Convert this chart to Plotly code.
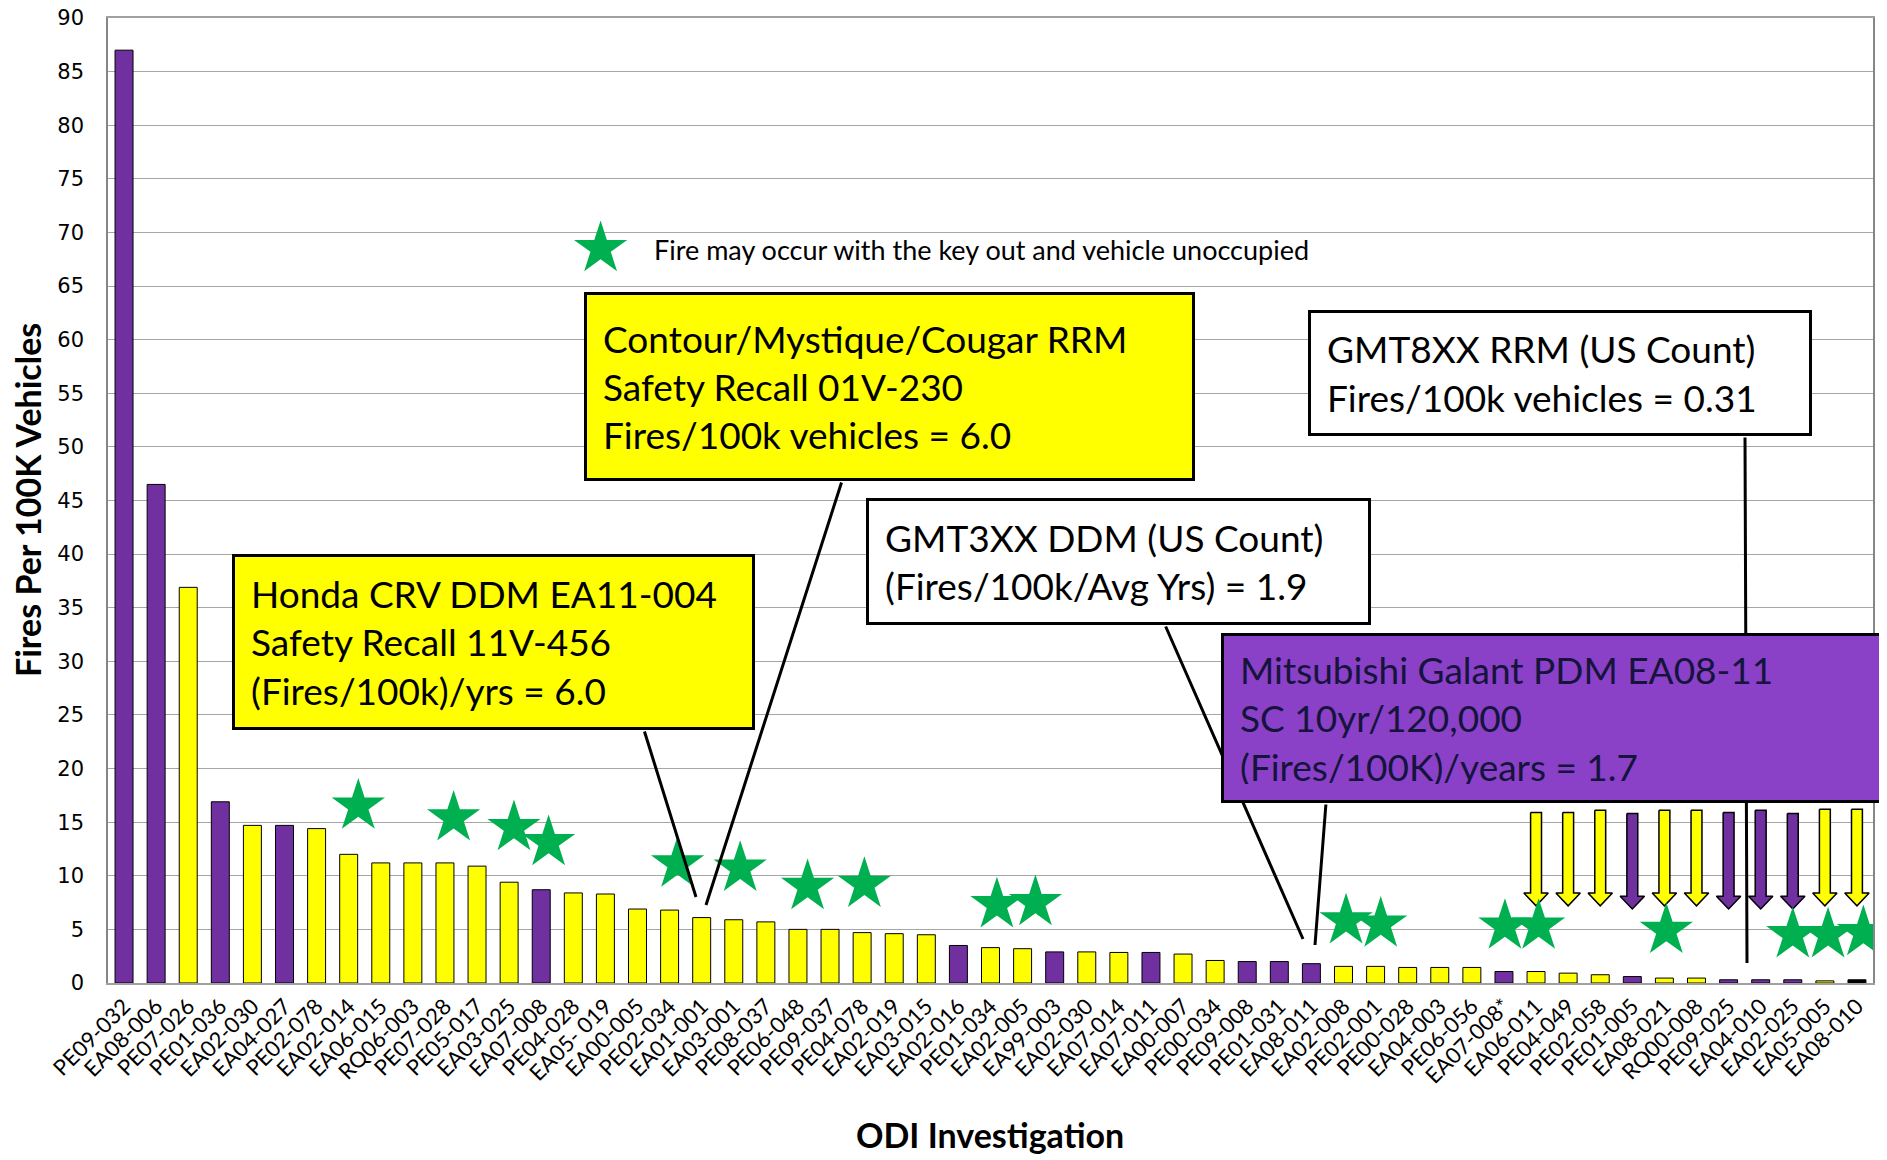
import plotly.graph_objects as go

# ODI investigations, sorted by fire rate
investigations = ["PE09-032", "EA08-006", "PE07-026", "PE01-036", "EA02-030", "EA04-027", "PE02-078",
                  "EA02-014", "EA06-015", "RQ06-003", "PE07-028", "PE05-017", "EA03-025", "EA07-008",
                  "PE04-028", "EA05- 019", "EA00-005", "PE02-034", "EA01-001", "EA03-001", "PE08-037",
                  "PE06-048", "PE09-037", "PE04-078", "EA02-019", "EA03-015", "EA02-016", "PE01-034",
                  "EA02-005", "EA99-003", "EA02-030", "EA07-014", "EA07-011", "EA00-007", "PE00-034",
                  "PE09-008", "PE01-031", "EA08-011", "EA02-008", "PE02-001", "PE00-028", "EA04-003",
                  "PE06-056", "EA07-008*", "EA06-011", "PE04-049", "PE02-058", "PE01-005", "EA08-021",
                  "RQ00-008", "PE09-025", "EA04-010", "EA02-025", "EA05-005", "EA08-010"]
fire_rate = [87.0, 46.5, 36.9, 16.9, 14.7, 14.7, 14.4, 12.0, 11.2, 11.2, 11.2, 10.9, 9.4, 8.7,
             8.4, 8.3, 6.9, 6.8, 6.1, 5.9, 5.7, 5.0, 5.0, 4.7, 4.6, 4.5, 3.5, 3.3,
             3.2, 2.9, 2.9, 2.85, 2.85, 2.7, 2.1, 2.0, 2.0, 1.8, 1.55, 1.55, 1.45, 1.45,
             1.45, 1.07, 1.07, 0.92, 0.77, 0.6, 0.46, 0.46, 0.3, 0.3, 0.3, 0.2, 0.3]
group = ["P", "P", "Y", "P", "Y", "P", "Y", "Y", "Y", "Y", "Y", "Y", "Y", "P",
         "Y", "Y", "Y", "Y", "Y", "Y", "Y", "Y", "Y", "Y", "Y", "Y", "P", "Y",
         "Y", "P", "Y", "Y", "P", "Y", "Y", "P", "P", "P", "Y", "Y", "Y", "Y",
         "Y", "P", "Y", "Y", "Y", "P", "Y", "Y", "P", "P", "P", "Y", "K"]

# green stars: "fire may occur with the key out"
star_x = [7.3, 10.27, 12.15, 13.23, 17.25, 19.2, 21.3, 23.07, 27.2, 28.4,
          38.08, 39.16, 43.03, 44.08, 48.06, 52.0, 53.1, 54.2]
star_y = [16.5, 15.4, 14.5, 13.1, 11.1, 10.7, 9.0, 9.2, 7.3, 7.5,
          5.8, 5.5, 5.3, 5.3, 4.9, 4.5, 4.5, 4.7]

# down arrows over the smallest bars
arrow_x = [44, 45, 46, 47, 48, 49, 50, 51, 52, 53, 54]
arrow_top = [15.9, 15.9, 16.1, 15.8, 16.1, 16.1, 15.9, 16.1, 15.8, 16.2, 16.2]
arrow_tip = [7.2, 7.2, 7.2, 6.9, 7.2, 7.2, 6.9, 6.9, 6.9, 7.2, 7.2]
arrow_group = ["Y", "Y", "Y", "P", "Y", "Y", "P", "P", "P", "Y", "Y"]

colors = {"P": "#7030A0", "Y": "#FFFF00", "K": "#000000"}
# page has an 8px body margin, so the figure is shrunk by that much
PAGE = 8
W, H = 1887 - PAGE, 1160 - PAGE
X0, X1, Y0, Y1 = 108, 1873, 18, 983   # plot area in screen pixels
FONT = "Lato"


def px_x(px):
    return (px - X0) / (X1 - X0)


def px_y(py):
    return (Y1 - py) / (Y1 - Y0)


fig = go.Figure()
xs = list(range(len(investigations)))
fig.add_trace(go.Bar(x=xs, y=fire_rate, marker=dict(color=[colors[g] for g in group],
                                                    line=dict(color="black", width=1)),
                     width=0.56, showlegend=False))

# arrows as filled polygons
for g in ["Y", "P"]:
    ax_, ay_ = [], []
    for x, top, tip, ag in zip(arrow_x, arrow_top, arrow_tip, arrow_group):
        if ag != g:
            continue
        sw, hw, hl = 0.17, 0.38, 1.2
        ax_ += [x - sw, x + sw, x + sw, x + hw, x, x - hw, x - sw, x - sw, None]
        ay_ += [top, top, tip + hl, tip + hl, tip, tip + hl, tip + hl, top, None]
    fig.add_trace(go.Scatter(x=ax_, y=ay_, mode="lines", fill="toself", fillcolor=colors[g],
                             line=dict(color="black", width=1.5), showlegend=False, hoverinfo="skip"))

fig.add_trace(go.Scatter(x=star_x, y=star_y, mode="markers",
                         marker=dict(symbol="star", size=40, color="#00B050", line=dict(width=0)),
                         showlegend=False))
# legend key star
fig.add_trace(go.Scatter(x=[14.85], y=[68.5], mode="markers",
                         marker=dict(symbol="star", size=40, color="#00B050", line=dict(width=0)),
                         showlegend=False))

annotations = []


def leader(x0, y0, x1, y1):
    return dict(xref="paper", yref="paper", x=px_x(x1), y=px_y(y1), axref="pixel", ayref="pixel",
                ax=x0 - x1, ay=y0 - y1, showarrow=True, arrowhead=0, arrowwidth=3,
                arrowcolor="black", text="")


annotations += [leader(644, 730, 696, 897),
                leader(842, 481, 706, 905),
                leader(1165, 625, 1303, 939),
                leader(1326, 803, 1315, 945),
                leader(1745, 436, 1747, 963)]


def box(text, x0, y0, x1, y1, bg, fg):
    bw, pad = 3, 16
    return dict(xref="paper", yref="paper", x=px_x(x0), y=px_y(y0), xanchor="left", yanchor="top",
                text=text, showarrow=False, align="left", valign="middle",
                width=x1 - x0 - 2 * (bw + pad), height=y1 - y0 - 2 * (bw + pad),
                bgcolor=bg, bordercolor="black", borderwidth=bw, borderpad=pad,
                font=dict(family=FONT, size=37, color=fg))


annotations += [
    box("Honda CRV DDM EA11-004<br>Safety Recall 11V-456<br>(Fires/100k)/yrs = 6.0",
        232, 554, 755, 730, "#FFFF00", "black"),
    box("Contour/Mystique/Cougar RRM<br>Safety Recall 01V-230<br>Fires/100k vehicles = 6.0",
        584, 292, 1195, 481, "#FFFF00", "black"),
    box("GMT3XX DDM (US Count)<br>(Fires/100k/Avg Yrs) = 1.9",
        866, 498, 1371, 625, "white", "black"),
    box("GMT8XX RRM (US Count)<br>Fires/100k vehicles = 0.31",
        1308, 310, 1812, 436, "white", "black"),
    box("Mitsubishi Galant PDM EA08-11<br>SC 10yr/120,000<br>(Fires/100K)/years = 1.7",
        1221, 633, 1883, 803, "#8B40C8", "#14143C"),
]

annotations.append(dict(xref="paper", yref="paper", x=px_x(652), y=px_y(249), xanchor="left",
                        yanchor="middle", text="Fire may occur with the key out and vehicle unoccupied",
                        showarrow=False, font=dict(family=FONT, size=27, color="black")))
annotations.append(dict(xref="paper", yref="paper", x=px_x(27), y=px_y(500), textangle=-90,
                        xanchor="center", yanchor="middle",
                        text="<b>Fires Per 100K Vehicles</b>", showarrow=False,
                        font=dict(family=FONT, size=34, color="black")))
annotations.append(dict(xref="paper", yref="paper", x=px_x(990), y=px_y(1134),
                        xanchor="center", yanchor="middle",
                        text="<b>ODI Investigation</b>", showarrow=False,
                        font=dict(family=FONT, size=34, color="black")))

fig.update_layout(
    width=W, height=H,
    margin=dict(l=X0 - PAGE, r=W + PAGE - X1, t=Y0 - PAGE, b=H + PAGE - Y1),
    plot_bgcolor="white", paper_bgcolor="white",
    annotations=annotations,
    xaxis=dict(range=[-0.5, len(investigations) - 0.5], tickmode="array", tickvals=xs,
               ticktext=investigations, tickangle=-45, showgrid=False, zeroline=False,
               showline=True, linecolor="#A0A0A0", linewidth=1.5, mirror=True, automargin=False,
               tickfont=dict(family=FONT, size=22, color="black")),
    yaxis=dict(range=[0, 90], dtick=5, showgrid=True, gridcolor="#A6A6A6", gridwidth=1.3,
               zeroline=False, showline=True, linecolor="#868686", linewidth=1.5, mirror=True,
               automargin=False, tickfont=dict(family="DejaVu Sans", size=21, color="black"),
               ticks="", ticklabelstandoff=18, ticklabeloverflow="allow"),
)

fig.write_html("out.html")
